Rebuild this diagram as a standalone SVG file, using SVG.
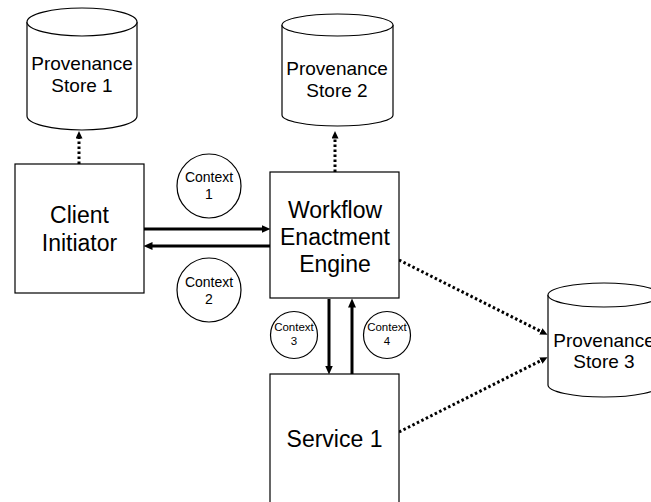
<svg xmlns="http://www.w3.org/2000/svg" width="651" height="502" viewBox="0 0 651 502">
<style>
.shape{fill:#fff;stroke:#000;stroke-width:1.2}
.t{font-family:"Liberation Sans",Arial,sans-serif;fill:#000;text-anchor:middle}
.big{font-size:23px}
.store{font-size:19px}
.ctx{font-size:14px}
.ctxs{font-size:11.5px}
.solid{stroke:#000;stroke-width:3;fill:none}
.dot{stroke:#000;stroke-width:3;fill:none;stroke-dasharray:2.5 2.5}
</style>
<defs>
<marker id="ah" markerUnits="userSpaceOnUse" markerWidth="10" markerHeight="10" refX="0.5" refY="4" orient="auto">
<path d="M0,0 L9,4 L0,8 z" fill="#000"/>
</marker>
<marker id="dh" markerUnits="userSpaceOnUse" markerWidth="9" markerHeight="9" refX="0.5" refY="3.5" orient="auto">
<path d="M0,0 L7.5,3.5 L0,7 z" fill="#000"/>
</marker>
</defs>
<g id="connectors">
<line class="dot" x1="79" y1="164" x2="79" y2="138" marker-end="url(#dh)"/>
<line class="dot" x1="335" y1="172" x2="335" y2="138" marker-end="url(#dh)"/>
<line class="solid" x1="144" y1="229" x2="262" y2="229" marker-end="url(#ah)"/>
<line class="solid" x1="270" y1="246" x2="152" y2="246" marker-end="url(#ah)"/>
<line class="solid" x1="329" y1="299" x2="329" y2="366" marker-end="url(#ah)"/>
<line class="solid" x1="352" y1="374" x2="352" y2="307" marker-end="url(#ah)"/>
<line class="dot" x1="399" y1="260" x2="541.3" y2="331.6" marker-end="url(#dh)"/>
<line class="dot" x1="399" y1="432" x2="541.3" y2="360.4" marker-end="url(#dh)"/>
</g>
<g id="store1">
<path class="shape" d="M27,22 L27,116 A55,14 0 0 0 137,116 L137,22"/>
<ellipse class="shape" cx="82" cy="22" rx="55" ry="14"/>
<text class="t store" x="82" y="70">Provenance</text>
<text class="t store" x="82" y="92">Store 1</text>
</g>
<g id="store2">
<path class="shape" d="M282,25 L282,115 A55.5,11 0 0 0 393,115 L393,25"/>
<ellipse class="shape" cx="337.5" cy="25" rx="55.5" ry="11"/>
<text class="t store" x="337" y="75">Provenance</text>
<text class="t store" x="337" y="97">Store 2</text>
</g>
<g id="store3">
<path class="shape" d="M548,295 L548,385 A56,12 0 0 0 660,385 L660,295"/>
<ellipse class="shape" cx="604" cy="295" rx="56" ry="12"/>
<text class="t store" x="604" y="347">Provenance</text>
<text class="t store" x="604" y="368">Store 3</text>
</g>
<g id="client">
<rect class="shape" x="15" y="164" width="129" height="129"/>
<text class="t big" x="79.5" y="223">Client</text>
<text class="t big" x="79.5" y="251">Initiator</text>
</g>
<g id="engine">
<rect class="shape" x="270" y="172" width="129" height="126"/>
<text class="t big" x="335" y="218">Workflow</text>
<text class="t big" x="335" y="245">Enactment</text>
<text class="t big" x="335" y="272">Engine</text>
</g>
<g id="service1">
<rect class="shape" x="270" y="374" width="129" height="140"/>
<text class="t big" x="334.5" y="447">Service 1</text>
</g>
<g id="context1">
<circle class="shape" cx="209" cy="186" r="32"/>
<text class="t ctx" x="209" y="182">Context</text>
<text class="t ctx" x="209" y="199">1</text>
</g>
<g id="context2">
<circle class="shape" cx="209" cy="290" r="32"/>
<text class="t ctx" x="209" y="287">Context</text>
<text class="t ctx" x="209" y="304">2</text>
</g>
<g id="context3">
<circle class="shape" cx="294" cy="335" r="23.5"/>
<text class="t ctxs" x="294" y="331">Context</text>
<text class="t ctxs" x="294" y="345">3</text>
</g>
<g id="context4">
<circle class="shape" cx="387" cy="335" r="23.5"/>
<text class="t ctxs" x="387" y="331">Context</text>
<text class="t ctxs" x="387" y="345">4</text>
</g>
</svg>
